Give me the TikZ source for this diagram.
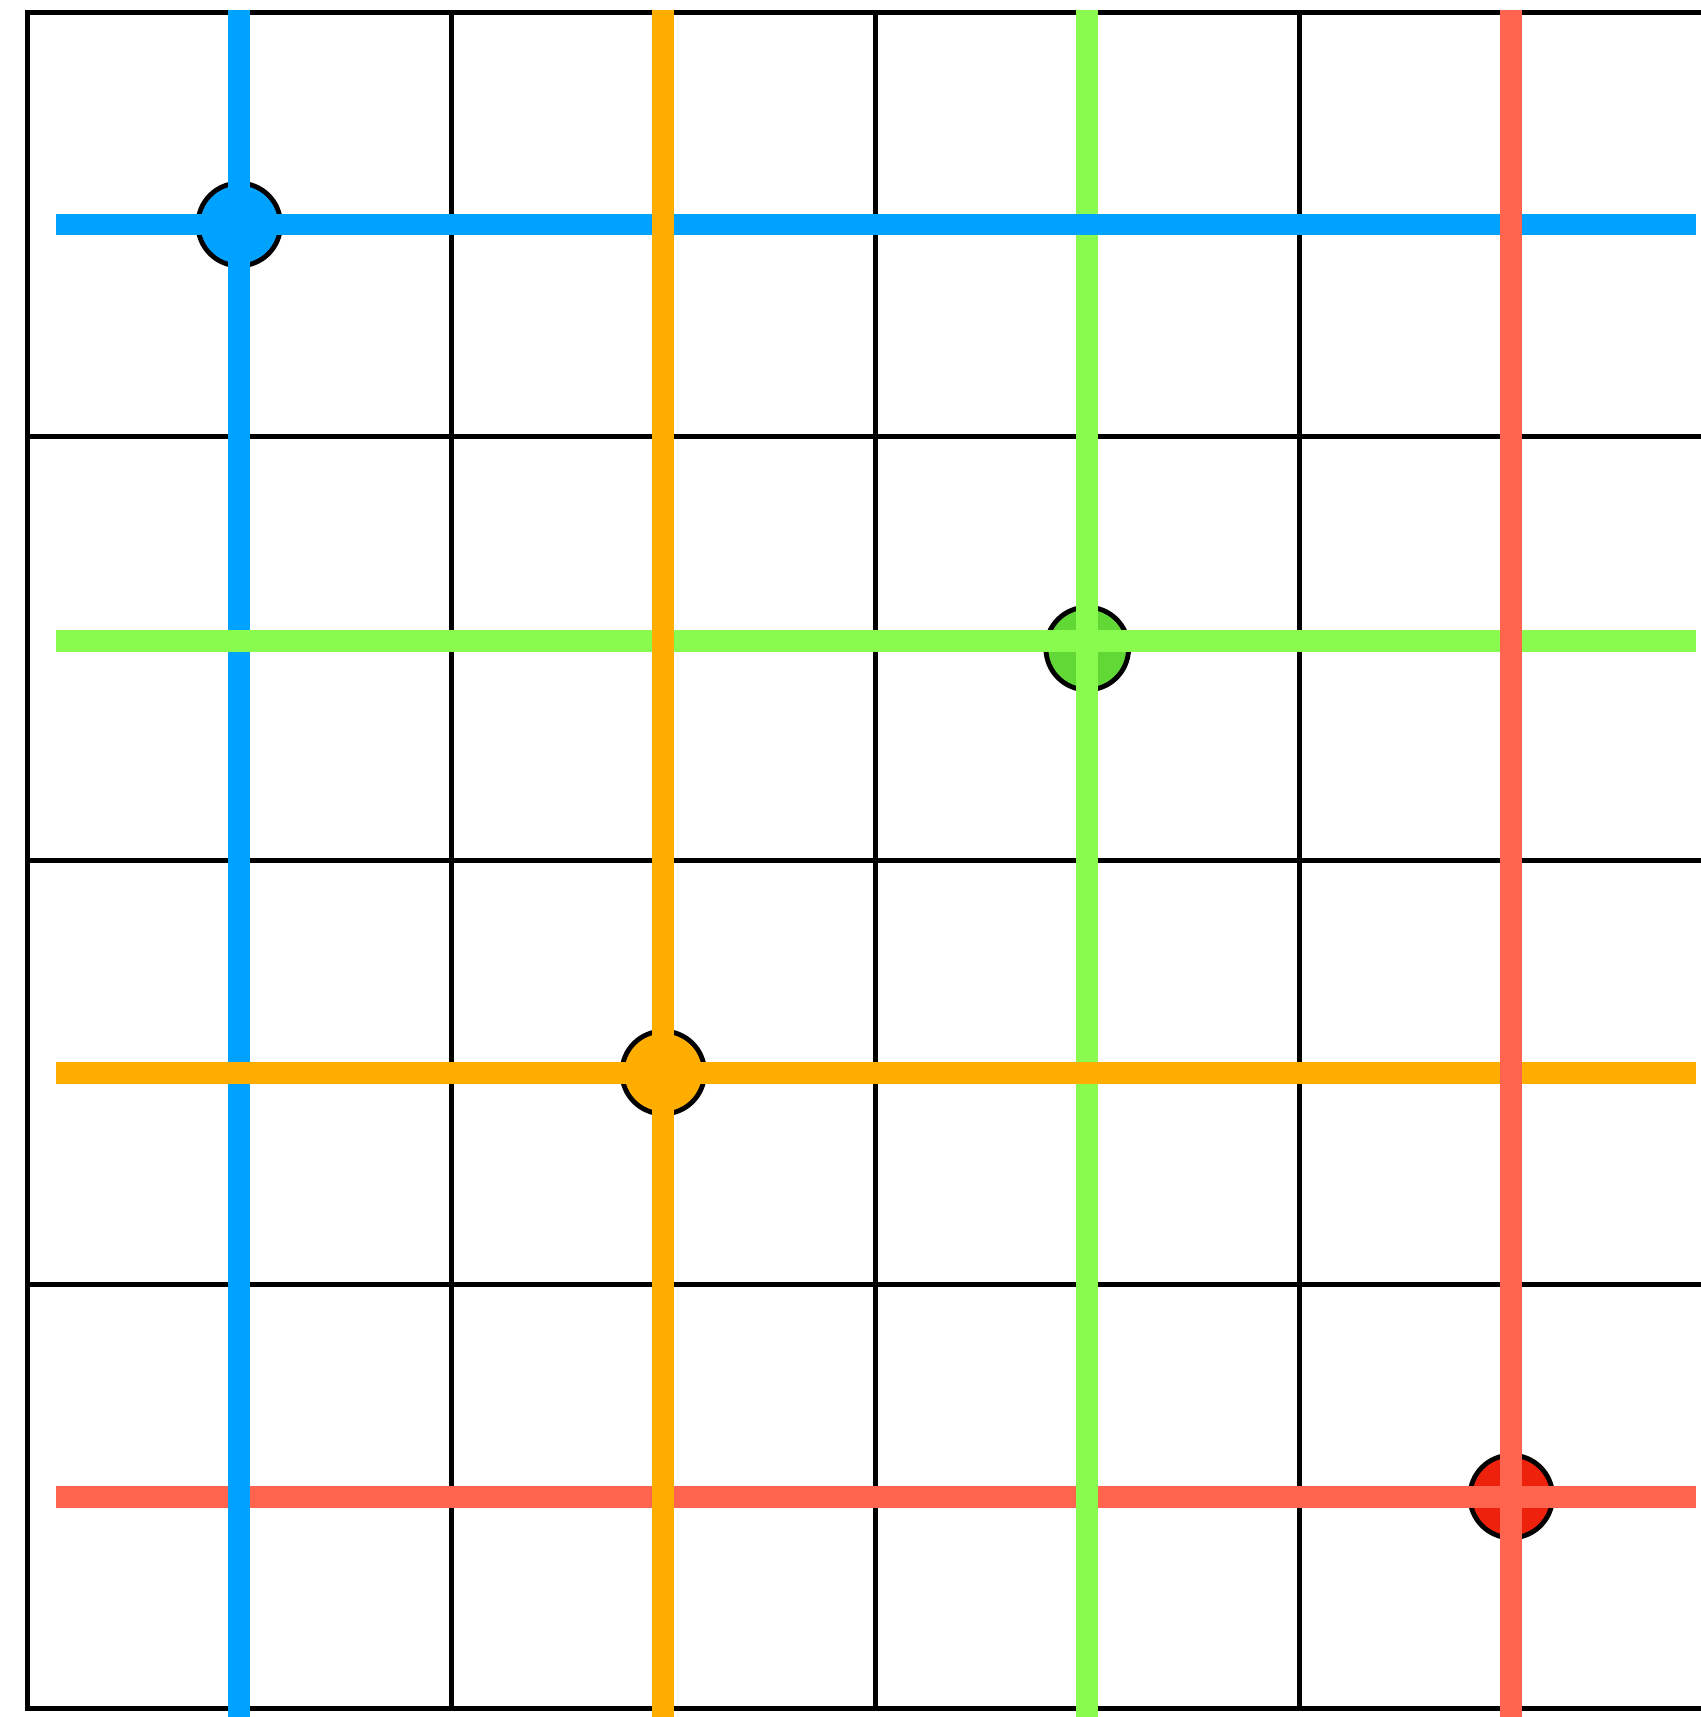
\documentclass[tikz,border=0pt]{standalone}
\usepackage{xcolor}
\usepackage{tikz}
\definecolor{kblue}{RGB}{0,162,255}
\definecolor{korange}{RGB}{255,174,0}
\definecolor{kgreen}{RGB}{137,250,78}
\definecolor{kgreendot}{RGB}{97,216,54}
\definecolor{kred}{RGB}{255,100,78}
\definecolor{kreddot}{RGB}{238,34,12}
\tikzset{
  gridln/.style={draw=black, line width=1.3pt},
  hit/.style={circle, draw=black, line width=1.3pt, minimum size=7.8mm, inner sep=0pt},
  ray/.style={line width=5.9pt}
}

\begin{document}
\begin{tikzpicture}
\useasboundingbox (-0.257,-0.080) rectangle (15.781,16.118);

% board
\draw[gridln] (15.9,16) -- (0,16) -- (0,0) -- (15.9,0);
\draw[gridln] (0,4) -- (15.9,4);
\draw[gridln] (0,8) -- (15.9,8);
\draw[gridln] (0,12) -- (15.9,12);
\draw[gridln] (4,0) -- (4,16);
\draw[gridln] (8,0) -- (8,16);
\draw[gridln] (12,0) -- (12,16);

% pieces
\node[hit, fill=kblue] (pb) at (2,14) {};
\node[hit, fill=kgreendot] (pg) at (10,10) {};
\node[hit, fill=korange] (po) at (6,6) {};
\node[hit, fill=kreddot] (pr) at (14,2) {};

% rows and columns
\draw[ray, kred] (0.27,2) -- (15.74,2);
\draw[ray, kgreen] (10,16.024) -- (10,-0.1);
\draw[ray, kblue] (2,16.024) -- (2,-0.1);
\draw[ray, kblue] (0.27,14) -- (15.74,14);
\draw[ray, kgreen] (0.27,10.07) -- (15.74,10.07);
\draw[ray, korange] (0.27,6) -- (15.74,6);
\draw[ray, korange] (6,16.024) -- (6,-0.1);
\draw[ray, kred] (14,16.024) -- (14,-0.1);
\end{tikzpicture}
\end{document}
